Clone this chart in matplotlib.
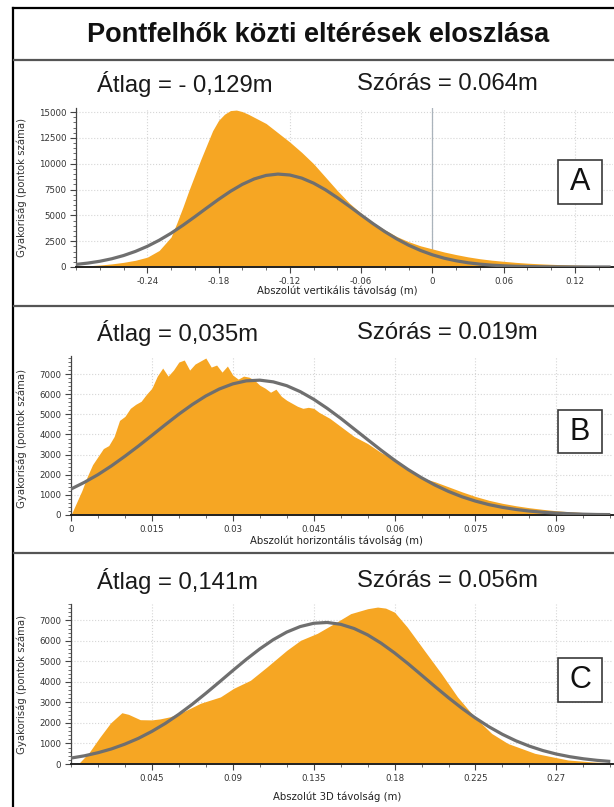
import matplotlib
matplotlib.use('Agg')
import matplotlib.pyplot as plt
from matplotlib.ticker import FixedLocator, MultipleLocator
from matplotlib.patches import Rectangle
from matplotlib.lines import Line2D

# ---------------- data ----------------
title = "Pontfelhők közti eltérések eloszlása"

# Panel A: vertical distance
a_mean_txt = "Átlag = - 0,129m"
a_std_txt = "Szórás = 0.064m"
a_xlabel = "Abszolút vertikális távolság (m)"
a_hist_x = [-0.30, -0.29, -0.28, -0.27, -0.26, -0.25, -0.24, -0.23, -0.22, -0.215,
            -0.21, -0.205, -0.20, -0.195, -0.19, -0.185, -0.18, -0.175, -0.17, -0.165,
            -0.16, -0.155, -0.15, -0.14, -0.13, -0.12, -0.11, -0.10, -0.09, -0.08,
            -0.07, -0.06, -0.05, -0.04, -0.03, -0.02, -0.01, 0.00, 0.01, 0.02,
            0.03, 0.04, 0.05, 0.06, 0.07, 0.08, 0.09, 0.10, 0.11, 0.12, 0.13, 0.14, 0.15]
a_hist_y = [80, 120, 190, 300, 450, 650, 950, 1600, 2900, 4300,
            5800, 7400, 8900, 10400, 11800, 13200, 14200, 14800, 15150, 15200,
            15050, 14800, 14500, 13900, 13000, 12100, 11100, 10000, 8700, 7400,
            6200, 5200, 4300, 3600, 2950, 2450, 2050, 1750, 1450, 1200,
            980, 800, 660, 550, 450, 370, 310, 260, 220, 180, 150, 120, 100]
a_fit_x = [-0.30, -0.29, -0.28, -0.27, -0.26, -0.25, -0.24, -0.23, -0.22, -0.21,
           -0.20, -0.19, -0.18, -0.17, -0.16, -0.15, -0.14, -0.13, -0.12, -0.11,
           -0.10, -0.09, -0.08, -0.07, -0.06, -0.05, -0.04, -0.03, -0.02, -0.01,
           0.00, 0.01, 0.02, 0.03, 0.04, 0.05, 0.06, 0.07, 0.08, 0.09,
           0.10, 0.11, 0.12, 0.13, 0.14, 0.15]
a_fit_y = [250, 380, 555, 795, 1110, 1510, 2000, 2590, 3270, 4040,
           4865, 5715, 6550, 7330, 8005, 8530, 8870, 9000, 8910, 8610,
           8120, 7475, 6710, 5885, 5035, 4200, 3420, 2720, 2110, 1600,
           1180, 850, 600, 410, 275, 180, 115, 70, 45, 25,
           15, 10, 5, 3, 2, 1]
a_xticks = [-0.24, -0.18, -0.12, -0.06, 0.0, 0.06, 0.12]
a_xticklabels = ["-0.24", "-0.18", "-0.12", "-0.06", "0", "0.06", "0.12"]
a_yticks = [0, 2500, 5000, 7500, 10000, 12500, 15000]
a_yticklabels = ["0", "2500", "5000", "7500", "10000", "12500", "15000"]

# Panel B: horizontal distance
b_mean_txt = "Átlag = 0,035m"
b_std_txt = "Szórás = 0.019m"
b_xlabel = "Abszolút horizontális távolság (m)"
b_hist_x = [0.000, 0.001, 0.002, 0.003, 0.004, 0.005, 0.006, 0.007, 0.008, 0.009,
            0.010, 0.011, 0.012, 0.013, 0.014, 0.015, 0.016, 0.017, 0.018, 0.019,
            0.020, 0.021, 0.022, 0.023, 0.024, 0.025, 0.026, 0.027, 0.028, 0.029,
            0.030, 0.031, 0.032, 0.033, 0.034, 0.035, 0.036, 0.037, 0.038, 0.039,
            0.040, 0.041, 0.042, 0.043, 0.044, 0.045, 0.046, 0.047, 0.048, 0.049,
            0.0500, 0.0525, 0.0550, 0.0575, 0.0600, 0.0625, 0.0650, 0.0675, 0.0700, 0.0725,
            0.0750, 0.0775, 0.0800, 0.0825, 0.0850, 0.0875, 0.0900, 0.0925, 0.0950, 0.0975,
            0.1000]
b_hist_y = [0, 600, 1200, 1900, 2500, 2900, 3300, 3450, 3900, 4700,
            4900, 5300, 5500, 5650, 6000, 6300, 6900, 7300, 6900, 7200,
            7600, 7700, 7200, 7500, 7650, 7800, 7350, 7450, 7100, 7400,
            6950, 6750, 6900, 6850, 6700, 6450, 6300, 6100, 6250, 5900,
            5700, 5550, 5400, 5300, 5350, 5300, 5100, 4950, 4800, 4600,
            4400, 3900, 3550, 3100, 2750, 2300, 1850, 1650, 1400, 1150,
            920, 730, 580, 460, 360, 280, 210, 160, 120, 90,
            70]
b_fit_x = [0.0000, 0.0025, 0.0050, 0.0075, 0.0100, 0.0125, 0.0150, 0.0175, 0.0200, 0.0225,
           0.0250, 0.0275, 0.0300, 0.0325, 0.0350, 0.0375, 0.0400, 0.0425, 0.0450, 0.0475,
           0.0500, 0.0525, 0.0550, 0.0575, 0.0600, 0.0625, 0.0650, 0.0675, 0.0700, 0.0725,
           0.0750, 0.0775, 0.0800, 0.0825, 0.0850, 0.0875, 0.0900, 0.0925, 0.0950, 0.0975, 0.1000]
b_fit_y = [1290, 1625, 2005, 2440, 2920, 3425, 3955, 4490, 5010, 5490,
           5915, 6260, 6515, 6665, 6700, 6615, 6425, 6130, 5750, 5300,
           4805, 4275, 3745, 3220, 2720, 2260, 1850, 1485, 1170, 905,
           690, 515, 380, 275, 195, 135, 95, 65, 40, 25, 20]
b_xticks = [0.0, 0.015, 0.03, 0.045, 0.06, 0.075, 0.09]
b_xticklabels = ["0", "0.015", "0.03", "0.045", "0.06", "0.075", "0.09"]
b_yticks = [0, 1000, 2000, 3000, 4000, 5000, 6000, 7000]
b_yticklabels = ["0", "1000", "2000", "3000", "4000", "5000", "6000", "7000"]

# Panel C: 3D distance
c_mean_txt = "Átlag = 0,141m"
c_std_txt = "Szórás = 0.056m"
c_xlabel = "Abszolút 3D távolság (m)"
c_hist_x = [0.000, 0.004, 0.010, 0.016, 0.022, 0.0283, 0.032, 0.0385, 0.045, 0.0496,
            0.055, 0.0608, 0.066, 0.072, 0.0831, 0.0905, 0.0998, 0.109, 0.120, 0.1277,
            0.137, 0.1463, 0.1556, 0.165, 0.1705, 0.175, 0.180, 0.187, 0.1965, 0.206,
            0.215, 0.2244, 0.234, 0.243, 0.258, 0.2765, 0.290, 0.300]
c_hist_y = [0, 0, 550, 1300, 2000, 2500, 2420, 2160, 2150, 2200,
            2300, 2480, 2700, 2960, 3270, 3690, 4080, 4730, 5540, 6030,
            6370, 6840, 7330, 7570, 7650, 7600, 7400, 6680, 5540, 4410,
            3270, 2300, 1490, 1000, 520, 195, 100, 60]
c_fit_x = [0.0000, 0.0075, 0.0150, 0.0225, 0.0300, 0.0375, 0.0450, 0.0525, 0.0600, 0.0675,
           0.0750, 0.0825, 0.0900, 0.0975, 0.1050, 0.1125, 0.1200, 0.1275, 0.1350, 0.1425,
           0.1500, 0.1575, 0.1650, 0.1725, 0.1800, 0.1875, 0.1950, 0.2025, 0.2100, 0.2175,
           0.2250, 0.2325, 0.2400, 0.2475, 0.2550, 0.2625, 0.2700, 0.2775, 0.2850, 0.2925, 0.3000]
c_fit_y = [290, 400, 550, 735, 970, 1250, 1590, 1980, 2425, 2915,
           3445, 3995, 4555, 5100, 5610, 6060, 6430, 6700, 6860, 6900,
           6810, 6605, 6295, 5890, 5415, 4890, 4335, 3775, 3230, 2715,
           2240, 1815, 1445, 1130, 870, 655, 485, 355, 255, 180, 125]
c_xticks = [0.045, 0.09, 0.135, 0.18, 0.225, 0.27]
c_xticklabels = ["0.045", "0.09", "0.135", "0.18", "0.225", "0.27"]
c_yticks = [0, 1000, 2000, 3000, 4000, 5000, 6000, 7000]
c_yticklabels = ["0", "1000", "2000", "3000", "4000", "5000", "6000", "7000"]

ylabel = "Gyakoriság (pontok száma)"
panel_letters = ["A", "B", "C"]

# ---------------- styling ----------------
ORANGE = "#F6A623"
GREY = "#6f6f6f"
W, H = 614, 807
BIG = "Liberation Sans"
SMALL = "DejaVu Sans"

fig = plt.figure(figsize=(W / 100, H / 100), dpi=100)
fig.patch.set_facecolor("white")


def fx(px):
    return px / W


def fy(py):
    return 1 - py / H


def add_ax(l, t, r, b):
    return fig.add_axes([fx(l), fy(b), (r - l) / W, (b - t) / H])


def panel(ax, hx, hy, cx, cy, xlim, ylim, xt, xtl, xminor, yt, ytl, yminor, zero_line=False):
    ax.set_facecolor("white")
    ax.set_axisbelow(True)
    ax.fill_between(hx, hy, 0, color=ORANGE, linewidth=0, zorder=2)
    ax.plot(cx, cy, color=GREY, lw=2.3, zorder=3, solid_capstyle="butt")
    ax.set_xlim(*xlim)
    ax.set_ylim(*ylim)
    ax.xaxis.set_major_locator(FixedLocator(xt))
    ax.set_xticklabels(xtl)
    ax.xaxis.set_minor_locator(MultipleLocator(xminor))
    ax.yaxis.set_major_locator(FixedLocator(yt))
    ax.set_yticklabels(ytl)
    ax.yaxis.set_minor_locator(MultipleLocator(yminor))
    for s in ("top", "right"):
        ax.spines[s].set_visible(False)
    ax.spines["left"].set_color("#444444")
    ax.spines["left"].set_linewidth(0.9)
    ax.spines["bottom"].set_color("#222222")
    ax.spines["bottom"].set_linewidth(1.4)
    ax.tick_params(axis="both", which="major", direction="out", length=4, width=0.8,
                   color="#444444", labelsize=6.2, labelcolor="#333333", pad=3)
    ax.tick_params(axis="both", which="minor", direction="out", length=2.5, width=0.6,
                   color="#555555")
    for lab in ax.get_xticklabels() + ax.get_yticklabels():
        lab.set_fontfamily(SMALL)
    ax.grid(True, which="major", axis="both", color="#d6d6d6", linestyle=":", linewidth=0.8)
    if zero_line:
        ax.axvline(0, color="#aab3bb", lw=0.9, zorder=1)


# Panel A
axA = add_ax(76, 108, 613, 267)
panel(axA, a_hist_x, a_hist_y, a_fit_x, a_fit_y, (-0.30, 0.152), (0, 15400),
      a_xticks, a_xticklabels, 0.02, a_yticks, a_yticklabels, 500, zero_line=True)
# Panel B
axB = add_ax(71, 356, 613, 515)
panel(axB, b_hist_x, b_hist_y, b_fit_x, b_fit_y, (0, 0.1005), (0, 7900),
      b_xticks, b_xticklabels, 0.005, b_yticks, b_yticklabels, 200)
# Panel C
axC = add_ax(71, 604, 613, 764)
panel(axC, c_hist_x, c_hist_y, c_fit_x, c_fit_y, (0, 0.3015), (0, 7800),
      c_xticks, c_xticklabels, 0.015, c_yticks, c_yticklabels, 200)

# ---------------- frame, title, separators ----------------
fig.add_artist(Line2D([fx(13), fx(13)], [fy(8), 0], color="black", lw=1.6))
fig.add_artist(Line2D([fx(13), 1], [fy(8), fy(8)], color="black", lw=1.6))
for ysep in (60, 306, 553):
    fig.add_artist(Line2D([fx(14), 1], [fy(ysep), fy(ysep)], color="#555555", lw=1.6))

fig.text(fx(318), fy(35), title, ha="center", va="center", fontsize=19.5,
         fontweight="bold", family=BIG, color="#111111")

# stats texts
for (ym, mtxt, stxt) in ((84, a_mean_txt, a_std_txt), (333, b_mean_txt, b_std_txt),
                         (581, c_mean_txt, c_std_txt)):
    fig.text(fx(97), fy(ym), mtxt, ha="left", va="center", fontsize=17.2, family=BIG,
             color="#1a1a1a")
    fig.text(fx(357), fy(ym), stxt, ha="left", va="center", fontsize=17.2, family=BIG,
             color="#1a1a1a")

# x labels
for (yl, txt) in ((291, a_xlabel), (541, b_xlabel), (797, c_xlabel)):
    fig.text(fx(337), fy(yl), txt, ha="center", va="center", fontsize=7.3, family=SMALL,
             color="#222222")

# y labels
for yc in (187.5, 438, 684):
    fig.text(fx(22), fy(yc), ylabel, ha="center", va="center", rotation=90, fontsize=7.3,
             family=SMALL, color="#333333")

# panel letter boxes
for letter, (bt, bb) in zip(panel_letters, ((160, 204), (410, 453), (658, 702))):
    fig.add_artist(Rectangle((fx(558), fy(bb)), (602 - 558) / W, (bb - bt) / H,
                             transform=fig.transFigure, facecolor="white",
                             edgecolor="#3a3a3a", lw=1.2, zorder=5))
    fig.text(fx(580), fy((bt + bb) / 2), letter, ha="center", va="center", fontsize=22,
             family=BIG, color="#111111", zorder=6)

fig.savefig("out.png", dpi=100, facecolor="white")
